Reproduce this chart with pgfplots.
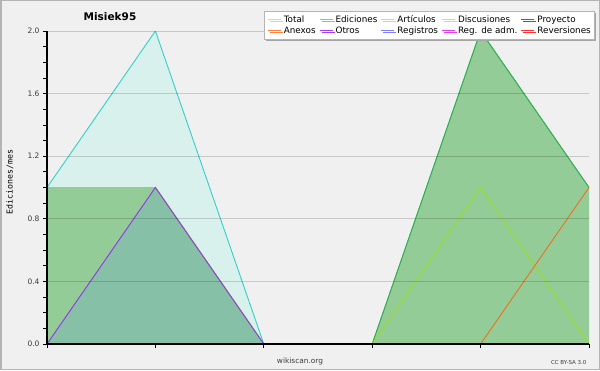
\documentclass[border=0pt]{standalone}
\usepackage{pgfplots}
\pgfplotsset{compat=1.18}
\usepackage{fontspec}
\setmainfont{DejaVu Sans}
\newfontfamily\monof{DejaVu Sans Mono}
\usetikzlibrary{shadows}
\definecolor{bgc}{RGB}{240,240,241}
\definecolor{borderc}{RGB}{180,180,180}
\definecolor{cyanfill}{RGB}{217,241,236}
\definecolor{greenfill}{RGB}{147,204,150}
\definecolor{otrosfill}{RGB}{134,192,166}
\definecolor{totalc}{RGB}{50,208,200}
\definecolor{edic}{RGB}{60,172,60}
\definecolor{artc}{RGB}{154,222,30}
\definecolor{otrosc}{RGB}{150,50,238}
\definecolor{anexc}{RGB}{240,112,32}
\definecolor{Ltotal}{RGB}{160,232,232}
\definecolor{Ledic}{RGB}{128,208,128}
\definecolor{Lart}{RGB}{192,240,64}
\definecolor{Ldisc}{RGB}{255,208,64}
\definecolor{Lproy}{RGB}{96,96,96}
\definecolor{Lanex}{RGB}{255,128,64}
\definecolor{Lotros}{RGB}{160,64,240}
\definecolor{Lreg}{RGB}{128,128,255}
\definecolor{Lregadm}{RGB}{224,64,240}
\definecolor{Lrev}{RGB}{255,48,48}
\definecolor{tickc}{RGB}{60,60,60}
\begin{document}
\begin{tikzpicture}[x=1pt,y=1pt]
\fill[bgc] (0,0) rectangle (600,370);
\draw[borderc, line width=1.5pt] (0.75,0.75) rectangle (599.25,369.25);
\begin{axis}[
  at={(47pt,26pt)}, anchor=south west,
  scale only axis, width=542pt, height=313pt,
  xmin=0, xmax=5, ymin=0, ymax=2,
  axis x line*=bottom, axis y line*=left,
  axis line style={black, line width=1.2pt},
  axis on top,
  xtick={0,1,2,3,4,5}, xticklabels={},
  ytick={0,0.4,0.8,1.2,1.6,2.0},
  minor y tick num=3,
  tick align=outside,
  major tick length=4pt, minor tick length=4pt,
  tick style={black, line width=0.8pt},
  ymajorgrids,
  grid style={black, opacity=0.16, line width=0.8pt},
  /pgf/number format/assume math mode=true,
  yticklabel style={font=\fontsize{7.5}{8}\selectfont, color=tickc,
    /pgf/number format/fixed, /pgf/number format/fixed zerofill,
    /pgf/number format/precision=1},
  legend columns=5,
  legend cell align=left,
  legend image code/.code={\draw[#1] (0pt,0pt) -- (13pt,0pt);},
  legend style={
    at={(0.4004,1.064)}, anchor=north west,
    draw=borderc, fill=white, line width=0.8pt,
    drop shadow={shadow xshift=2pt, shadow yshift=-2pt, fill=gray!70, opacity=1},
    font=\fontsize{8.8}{9}\selectfont,
    inner xsep=3pt, inner ysep=3.5pt,
    row sep=1.5pt,
    nodes={inner sep=0.6pt},
    /tikz/every odd column/.append style={column sep=2pt},
    /tikz/every even column/.append style={column sep=3pt},
  },
]
% fills
\addplot[draw=none, fill=cyanfill, forget plot] coordinates {(0,1) (1,2) (2,0) (3,0) (4,2) (5,1)} \closedcycle;
\addplot[draw=none, fill=greenfill, forget plot] coordinates {(0,1) (1,1) (2,0) (3,0) (4,2) (5,1)} \closedcycle;
\addplot[draw=none, fill=otrosfill, forget plot] coordinates {(0,0) (1,1) (2,0) (3,0) (4,0) (5,0)} \closedcycle;
% lines
\addplot[totalc, line width=0.9pt, forget plot] coordinates {(0,1) (1,2) (2,0) (3,0) (4,2) (5,1)};
\addplot[edic, line width=0.9pt, forget plot] coordinates {(0,1) (1,1) (2,0) (3,0) (4,2) (5,1)};
\addplot[artc, line width=0.9pt, forget plot] coordinates {(0,1) (1,1) (2,0) (3,0) (4,1) (5,0)};
\addplot[otrosc, line width=0.9pt, forget plot] coordinates {(0,0) (1,1) (2,0) (3,0) (4,0) (5,0)};
\addplot[anexc, line width=0.9pt, forget plot] coordinates {(0,0) (1,0) (2,0) (3,0) (4,0) (5,1)};
% legend
\addlegendimage{Ltotal, line width=0.8pt}\addlegendentry{Total}
\addlegendimage{Ledic, line width=0.8pt}\addlegendentry{Ediciones}
\addlegendimage{Lart, line width=0.8pt}\addlegendentry{Artículos}
\addlegendimage{Ldisc, line width=0.8pt}\addlegendentry{Discusiones}
\addlegendimage{Lproy, line width=0.8pt}\addlegendentry{Proyecto}
\addlegendimage{Lanex, line width=0.8pt}\addlegendentry{Anexos}
\addlegendimage{Lotros, line width=0.8pt}\addlegendentry{Otros}
\addlegendimage{Lreg, line width=0.8pt}\addlegendentry{Registros}
\addlegendimage{Lregadm, line width=0.8pt}\addlegendentry{Reg. de adm.}
\addlegendimage{Lrev, line width=0.8pt}\addlegendentry{Reversiones}
\end{axis}
\node[font=\bfseries\fontsize{10.5}{11}\selectfont] at (110,353) {Misiek95};
\node[rotate=90, font=\monof\fontsize{8.2}{9}\selectfont, color=black] at (10,188) {Ediciones/mes};
\node[font=\fontsize{7.4}{8}\selectfont, color=tickc] at (300,9) {wikiscan.org};
\node[font=\fontsize{5.5}{6}\selectfont, color=tickc, anchor=east] at (590,8) {CC BY-SA 3.0};
\pgfresetboundingbox
\useasboundingbox (0,0) rectangle (600,370);
\end{tikzpicture}
\end{document}
